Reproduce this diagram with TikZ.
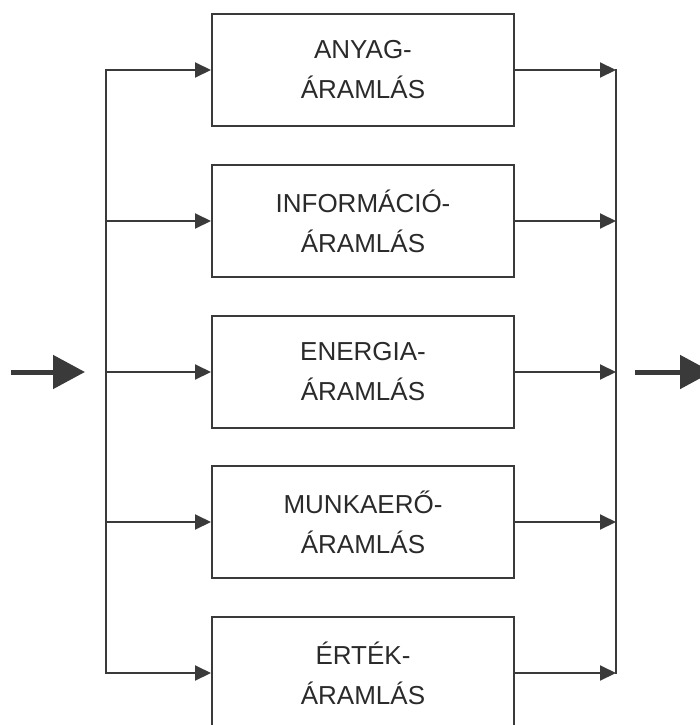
\documentclass[tikz,border=0pt]{standalone}
\usepackage{fontspec}
\setmainfont{Liberation Sans}
\usetikzlibrary{arrows.meta}

\definecolor{inkgray}{HTML}{3A3A3A}
\definecolor{textgray}{HTML}{2A2A2A}

\begin{document}
\begin{tikzpicture}[x=1pt,y=-1pt,
	flowbox/.style={draw=inkgray, line width=2pt, minimum width=302pt, minimum height=112pt, align=center, text=textgray, font=\fontsize{26}{40}\selectfont},
	branch/.style={draw=inkgray, line width=2pt, -{Triangle[length=16pt,width=15pt]}},
	bigarrow/.style={draw=inkgray, line width=5pt, -{Triangle[length=32pt,width=33pt]}}]
	\useasboundingbox (0,0) rectangle (700,725);
	\clip (0,0) rectangle (700,725);

	% the five flows with their branches
	\foreach \i/\y/\ftext in {1/70/ANYAG-, 2/221/INFORMÁCIÓ-, 3/372/ENERGIA-, 4/522/MUNKAERŐ-, 5/673/ÉRTÉK-}
	{
		\node[flowbox] (flow\i) at (363,\y) {\ftext\\ÁRAMLÁS};
		\coordinate (in\i) at (106,\y);
		\coordinate (out\i) at (616,\y);
		\draw[branch] (in\i) -- (flow\i);
		\draw[branch] (flow\i) -- (out\i);
	}

	% collecting lines
	\draw[inkgray, line width=2pt, line cap=rect] (in1) -- (in5);
	\draw[inkgray, line width=2pt, line cap=rect] (out1) -- (out5);

	% input and output
	\coordinate (src) at (11,372);
	\coordinate (srcend) at (85,372);
	\coordinate (sink) at (635,372);
	\coordinate (sinkend) at (712,372);
	\draw[bigarrow] (src) -- (srcend);
	\draw[bigarrow] (sink) -- (sinkend);
\end{tikzpicture}
\end{document}
